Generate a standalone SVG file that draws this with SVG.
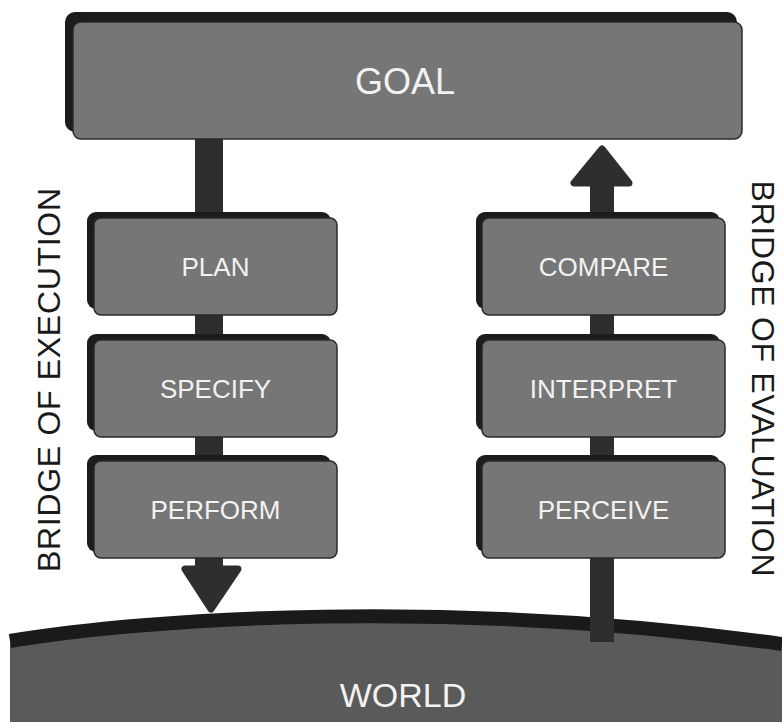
<svg xmlns="http://www.w3.org/2000/svg" width="782" height="722" viewBox="0 0 782 722">
  <style>
    .shadow { fill: #1c1c1c; }
    .box { fill: #767676; stroke: #2a2a2a; stroke-width: 1.5; }
    .label { font-family: "Liberation Sans", Arial, sans-serif; fill: #f2f2f2; text-anchor: middle; }
    .side { font-family: "Liberation Sans", Arial, sans-serif; fill: #1a1a1a; font-size: 32px; text-anchor: middle; }
    .shaft { fill: #2e2e2e; }
    .head { fill: #2e2e2e; stroke: #2e2e2e; stroke-width: 7; stroke-linejoin: round; }
  </style>
  <rect width="782" height="722" fill="#ffffff"/>

  <g id="world">
    <path d="M10,641 C150,618 450,598 782,644 L782,722 L10,722 Z" fill="#5a5a5a"/>
    <path d="M10,641 C150,618 450,598 782,644" fill="none" stroke="#1a1a1a" stroke-width="14"/>
    <text class="label" x="403" y="707" font-size="34">WORLD</text>
  </g>

  <g id="connectors">
    <!-- execution: goal down to world -->
    <rect class="shaft" x="195" y="135" width="28" height="432"/>
    <path class="head" d="M185,569 L238,569 L211,609 Z"/>
    <!-- evaluation: world up to goal -->
    <rect class="shaft" x="590" y="182" width="24" height="460"/>
    <path class="head" d="M574,183 L629,183 L602,149 Z"/>
  </g>

  <g id="goal">
    <rect class="shadow" x="65" y="12" width="672" height="120" rx="10"/>
    <rect class="box" x="73" y="22" width="669" height="117" rx="8"/>
    <text class="label" x="405" y="94" font-size="36">GOAL</text>
  </g>

  <g id="plan">
    <rect class="shadow" x="87" y="212" width="244" height="97" rx="9"/>
    <rect class="box" x="94" y="218" width="243" height="97" rx="7"/>
    <text class="label" x="215.5" y="276" font-size="26">PLAN</text>
  </g>
  <g id="specify">
    <rect class="shadow" x="87" y="334" width="244" height="97" rx="9"/>
    <rect class="box" x="94" y="340" width="243" height="97" rx="7"/>
    <text class="label" x="215.5" y="398" font-size="26">SPECIFY</text>
  </g>
  <g id="perform">
    <rect class="shadow" x="87" y="455" width="244" height="97" rx="9"/>
    <rect class="box" x="94" y="461" width="243" height="97" rx="7"/>
    <text class="label" x="215.5" y="519" font-size="26">PERFORM</text>
  </g>

  <g id="compare">
    <rect class="shadow" x="476" y="212" width="244" height="97" rx="9"/>
    <rect class="box" x="482" y="218" width="243" height="97" rx="7"/>
    <text class="label" x="603.5" y="276" font-size="26">COMPARE</text>
  </g>
  <g id="interpret">
    <rect class="shadow" x="476" y="334" width="244" height="97" rx="9"/>
    <rect class="box" x="482" y="340" width="243" height="97" rx="7"/>
    <text class="label" x="603.5" y="398" font-size="26">INTERPRET</text>
  </g>
  <g id="perceive">
    <rect class="shadow" x="476" y="455" width="244" height="97" rx="9"/>
    <rect class="box" x="482" y="461" width="243" height="97" rx="7"/>
    <text class="label" x="603.5" y="519" font-size="26">PERCEIVE</text>
  </g>

  <g id="bridge-execution">
    <text class="side" x="60" y="380" transform="rotate(-90 60 380)" textLength="384" lengthAdjust="spacing">BRIDGE OF EXECUTION</text>
  </g>
  <g id="bridge-evaluation">
    <text class="side" x="752" y="378.5" transform="rotate(90 752 378.5)" textLength="396" lengthAdjust="spacing">BRIDGE OF EVALUATION</text>
  </g>
</svg>
